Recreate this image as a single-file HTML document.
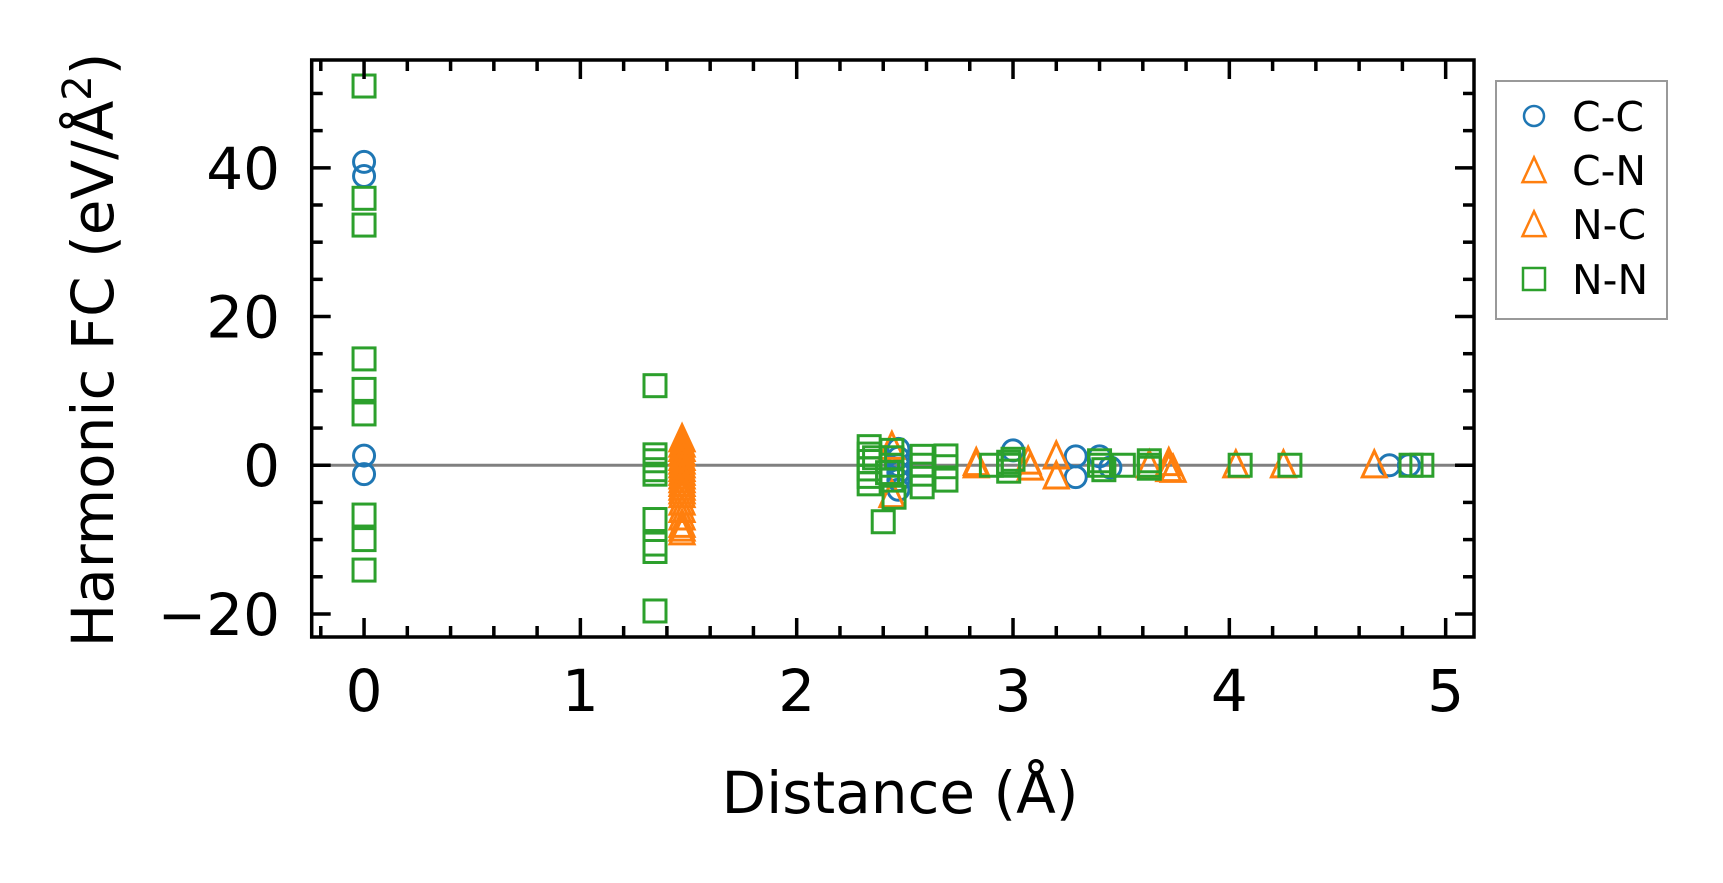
<!DOCTYPE html>
<html><head><meta charset="utf-8">
<style>
html,body{margin:0;padding:0;background:#fff;}
svg{display:block;font-family:"DejaVu Sans","Liberation Sans",sans-serif;}
</style></head>
<body>
<svg id="chart" width="1723" height="883" viewBox="0 0 1723 883">
<g id="marks"></g>
<g id="axes"></g>
<text x="900" y="813" font-size="58" text-anchor="middle">Distance (Å)</text>
<text transform="translate(113,350) rotate(-90)" font-size="58" text-anchor="middle">Harmonic FC (eV/Å<tspan dy="-22" font-size="40">2</tspan><tspan dy="22">)</tspan></text>
<g id="legend">
<rect x="1496" y="81" width="171" height="238" fill="#fff" stroke="#999" stroke-width="2"/>
</g>
</svg>
<script>
// Data
const ccX = [0, 0, 0, 0, 2.47, 2.47, 2.47, 2.47, 2.47, 2.47, 3.0, 3.29, 3.29, 3.40, 3.45, 4.74, 4.83];
const ccY = [40.8, 38.9, 1.3, -1.2, 2.2, 1.0, 0, -1.0, -2.0, -3.3, 2.0, 1.2, -1.6, 1.2, -0.3, 0, 0];
const cnX = [1.47,1.47,1.47,1.47,1.47,1.47,1.47,1.47,1.47,1.47,1.47, 2.44, 2.83, 3.07, 3.20, 3.63, 3.72, 4.03, 4.67];
const cnY = [3.5, 2.2, 1.0, 0, -1.0, -2.0, -3.0, -4.0, -6.0, -8.0, -9.0, 2.5, 0.3, 0.5, 1.2, 0, 0.3, 0, 0];
const ncX = [1.47,1.47,1.47,1.47,1.47,1.47,1.47,1.47,1.47,1.47, 2.44, 2.83, 3.20, 3.72, 4.25, 3.08, 3.74];
const ncY = [2.8, 1.6, 0.5, -0.5, -1.5, -2.5, -3.5, -5.0, -7.0, -8.5, -4.0, 0, -1.5, -0.5, 0, -0.3, -0.6];
const nnX = [0,0,0,0,0,0,0,0,0, 1.345,1.345,1.345,1.345,1.345,1.345,1.345,1.345,1.345,
  2.335,2.335,2.335,2.335,2.335,2.335, 2.44,2.44,2.44,2.44,2.44, 2.45, 2.40,
  2.58,2.58,2.58,2.58, 2.69,2.69,2.69, 2.90, 2.98, 3.00, 3.40, 3.51, 3.63, 4.05, 4.28, 4.84, 4.89,
  2.98, 2.98, 3.40, 3.42, 3.63, 3.63, 2.36, 2.42];
const nnY = [51.0, 35.9, 32.3, 14.3, 10.2, 6.9, -6.7, -10.0, -14.1,
  10.7, 1.4, 0.6, -0.6, -1.2, -7.3, -10.6, -11.6, -19.6,
  2.5, 1.5, 0.5, -0.5, -1.5, -2.5, 2.0, 1.0, 0, -1.0, -2.0, -4.3, -7.6,
  1.2, 0, -1.2, -2.9, 1.25, -0.2, -2.0, 0, 0, 0.8, 0, 0, 0, 0, 0, 0, 0,
  -0.8, 0.4, 0.6, -0.6, 0.6, -0.4, 1.0, -1.0];
const xTicks = [0, 1, 2, 3, 4, 5];
const yTicks = [-20, 0, 20, 40];

const NS = "http://www.w3.org/2000/svg";
const L = 311.7, R = 1474, T = 60, B = 637;
const xMin = -0.242, xMax = 5.131, yMin = -23.1, yMax = 54.5;
function sx(v){ return L + (v - xMin) / (xMax - xMin) * (R - L); }
function sy(v){ return B - (v - yMin) / (yMax - yMin) * (B - T); }
function mk(tag, attrs, parent){ const e = document.createElementNS(NS, tag); for (const k in attrs) e.setAttribute(k, attrs[k]); parent.appendChild(e); return e; }

const marks = document.getElementById('marks');
const axes = document.getElementById('axes');
const legend = document.getElementById('legend');

const zl = mk('line', {x1: L, x2: R, y1: sy(0), y2: sy(0), stroke: '#808080', 'stroke-width': 3}, marks);



function circle(cx, cy, r, color, parent){ return mk('circle', {cx: cx, cy: cy, r: r, fill: 'none', stroke: color, 'stroke-width': 3}, parent); }
function tri(cx, cy, s, color, parent){ const h = s * 1.08;
  return mk('polygon', {points: `${cx},${cy - h*0.55} ${cx - s/2},${cy + h*0.45} ${cx + s/2},${cy + h*0.45}`, fill: 'none', stroke: color, 'stroke-width': 3}, parent); }
function sq(cx, cy, s, color, parent){ return mk('rect', {x: cx - s/2, y: cy - s/2, width: s, height: s, fill: 'none', stroke: color, 'stroke-width': 3}, parent); }

for (let i = 0; i < ccX.length; i++) {
  const e = circle(sx(ccX[i]), sy(ccY[i]), 10.5, '#1f77b4', marks);
  
  
}
for (let i = 0; i < cnX.length; i++) {
  const e = tri(sx(cnX[i]), sy(cnY[i]), 24, '#ff7f0e', marks);
  
  
}
for (let i = 0; i < ncX.length; i++) {
  const e = tri(sx(ncX[i]), sy(ncY[i]), 24, '#ff7f0e', marks);
  
  
}
for (let i = 0; i < nnX.length; i++) {
  const e = sq(sx(nnX[i]), sy(nnY[i]), 22, '#2ca02c', marks);
  
  
}

function tick(x1, y1, x2, y2){ return mk('line', {x1: x1, y1: y1, x2: x2, y2: y2, stroke: '#000', 'stroke-width': 3.5}, axes); }
for (let v = -0.2; v <= 5.1; v += 0.2) {
  const vv = Math.round(v * 10) / 10;
  const major = Math.abs(vv - Math.round(vv)) < 1e-6;
  const len = major ? 19 : 11;
  const x = sx(vv);
  const t1 = tick(x, B, x, B - len);
  
  
  const t2 = tick(x, T, x, T + len);
  
  
}
for (let v = -20; v <= 50; v += 5) {
  const major = v % 20 === 0;
  const len = major ? 19 : 11;
  const y = sy(v);
  const t1 = tick(L, y, L + len, y);
  
  
  const t2 = tick(R, y, R - len, y);
  
  
}
xTicks.forEach(v => {
  const t = mk('text', {x: sx(v), y: 711, 'font-size': 58, 'text-anchor': 'middle'}, axes);
  t.textContent = String(v);
  
  
});
yTicks.forEach(v => {
  const t = mk('text', {x: 280, y: sy(v) + 21, 'font-size': 58, 'text-anchor': 'end'}, axes);
  t.textContent = v < 0 ? '\u2212' + Math.abs(v) : String(v);
  
  
});
const frame = mk('rect', {x: L, y: T, width: R - L, height: B - T, fill: 'none', stroke: '#000', 'stroke-width': 3.5}, axes);



const legNames = ['C-C', 'C-N', 'N-C', 'N-N'];
const legY = [116, 170, 224, 279];
legNames.forEach((n, i) => {
  const g = mk('g', {}, legend);
  
  
  const mx = 1534, my = legY[i];
  if (i === 0) circle(mx, my, 10, '#1f77b4', g).setAttribute('stroke-width', 2.5);
  else if (i < 3) tri(mx, my + 1, 23, '#ff7f0e', g).setAttribute('stroke-width', 2.5);
  else sq(mx, my, 22, '#2ca02c', g).setAttribute('stroke-width', 2.5);
  const t = mk('text', {x: 1572, y: my + 15, 'font-size': 41}, g);
  t.textContent = n;
});
</script>
</body></html>
